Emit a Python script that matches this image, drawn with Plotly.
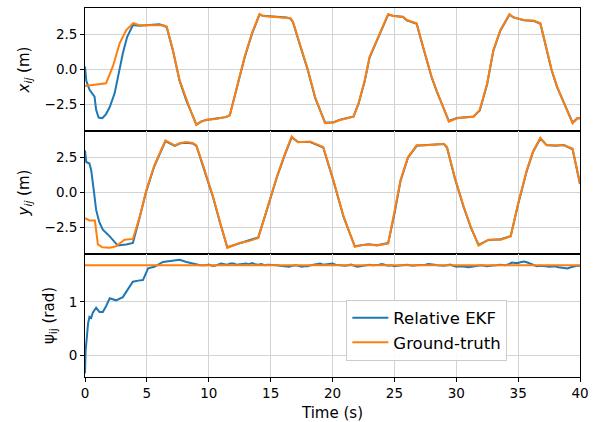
import plotly.graph_objects as go
from plotly.subplots import make_subplots

# ---------------- data ----------------
# Panel 1: x_ij (m)
t_x_gt = [0, 0.8, 1.7, 2.25, 2.8, 3.33, 3.9, 4.4, 5.0, 5.6, 6.0, 6.3, 6.6, 7.1, 7.65, 8.2, 8.6, 9.0,
          9.4, 9.8, 10.6, 11.4, 11.7, 12.3, 12.9, 13.5, 14.1, 14.4, 15.5, 16.3, 16.6, 16.8, 17.4, 18.0,
          18.6, 19.4, 20.1, 20.6, 21.2, 21.7, 22.1, 22.6, 23.0, 23.8, 24.5, 24.9, 25.7, 26.0, 26.8,
          27.2, 27.6, 28.0, 28.4, 28.9, 29.4, 30.06, 30.7, 31.4, 31.9, 32.5, 33.0, 33.56, 34.3, 34.6,
          35.45, 36.3, 36.8, 37.3, 37.7, 38.15, 38.8, 39.4, 39.8, 40.0]
x_gt = [-1.2, -1.1, -1.0, 0.2, 1.85, 2.8, 3.3, 3.15, 3.15, 3.2, 3.2, 3.15, 3.05, 1.4, -0.8, -2.2, -3.1, -3.98,
        -3.75, -3.6, -3.55, -3.4, -3.3, -1.2, 0.9, 2.6, 3.95, 3.8, 3.75, 3.7, 3.65, 3.4, 1.7, 0.0,
        -2.0, -3.86, -3.8, -3.62, -3.5, -3.39, -2.43, -0.8, 0.9, 2.6, 3.95, 3.8, 3.76, 3.52, 3.29,
        2.0, 0.66, -0.5, -1.48, -2.6, -3.74, -3.5, -3.45, -3.39, -2.9, -1.0, 1.38, 2.8, 3.95, 3.71,
        3.52, 3.47, 3.29, 1.38, 0.0, -1.24, -2.6, -3.86, -3.5, -3.5]

t_x_ekf = [0, 0.1, 0.36, 0.77, 0.9, 1.1, 1.4, 1.7, 2.0, 2.4, 2.7, 3.06, 3.4, 3.87, 4.4, 5.0, 5.6, 6.0,
           6.3, 6.6, 7.1, 7.65, 8.2, 8.6, 9.0, 9.4, 9.8, 10.6, 11.4, 11.7, 12.3, 12.9, 13.5, 14.1, 14.4,
           15.5, 16.3, 16.6, 16.8, 17.4, 18.0, 18.6, 19.4, 20.1, 20.6, 21.2, 21.7, 22.1, 22.6, 23.0,
           23.8, 24.5, 24.9, 25.7, 26.0, 26.8, 27.2, 27.6, 28.0, 28.4, 28.9, 29.4, 30.06, 30.7, 31.4,
           31.9, 32.5, 33.0, 33.56, 34.3, 34.6, 35.45, 36.3, 36.8, 37.3, 37.7, 38.15, 38.8, 39.4, 39.8, 40.0]
x_ekf = [0.2, -0.8, -1.45, -1.95, -2.9, -3.45, -3.5, -3.2, -2.7, -1.7, -0.4, 1.14, 2.3, 3.16, 3.12, 3.14,
         3.2, 3.22, 3.13, 3.02, 1.35, -0.85, -2.25, -3.12, -3.95, -3.72, -3.62, -3.52, -3.42, -3.28,
         -1.25, 0.85, 2.55, 3.9, 3.82, 3.73, 3.7, 3.62, 3.38, 1.65, -0.05, -2.05, -3.82, -3.78, -3.6,
         -3.48, -3.37, -2.48, -0.85, 0.85, 2.55, 3.9, 3.82, 3.74, 3.5, 3.25, 1.95, 0.6, -0.55, -1.52,
         -2.65, -3.7, -3.48, -3.44, -3.37, -2.95, -1.05, 1.33, 2.76, 3.9, 3.73, 3.5, 3.45, 3.25, 1.32,
         -0.05, -1.28, -2.65, -3.82, -3.48, -3.5]

# Panel 2: y_ij (m)
t_y_gt = [0, 0.36, 0.8, 1.04, 1.4, 2.0, 2.5, 3.2, 3.87, 4.4, 4.96, 5.6, 6.5, 7.25, 7.7, 8.2, 8.7, 9.0,
          9.5, 10.35, 10.9, 11.5, 12.5, 13.3, 14.0, 14.7, 15.5, 16.1, 16.7, 17.2, 18.2, 18.6, 19.25,
          20.07, 20.9, 21.8, 22.4, 22.9, 23.6, 24.5, 25.0, 25.5, 26.1, 26.8, 27.6, 28.3, 29.0, 29.25,
          29.9, 30.6, 31.2, 31.8, 32.6, 33.6, 34.4, 35.0, 35.7, 36.2, 36.8, 37.3, 38.0, 38.7, 39.4, 40.0]
y_gt = [-1.83, -2.0, -2.0, -3.7, -3.9, -3.94, -3.83, -3.36, -3.31, -1.8, 0.16, 1.9, 3.68, 3.33, 3.5, 3.56,
        3.5, 3.33, 2.04, -0.31, -2.07, -3.94, -3.6, -3.45, -3.24, -1.2, 1.1, 2.6, 3.96, 3.56, 3.6, 3.45,
        3.21, 0.87, -1.72, -3.87, -3.75, -3.71, -3.78, -3.64, -1.5, 0.87, 2.5, 3.33, 3.33, 3.4, 3.45,
        3.21, 1.0, -1.01, -2.5, -3.78, -3.36, -3.36, -3.13, -0.8, 1.57, 2.9, 3.87, 3.33, 3.33, 3.33, 3.1, 0.63]

t_y_ekf = [0, 0.1, 0.36, 0.5, 0.7, 0.9, 1.15, 1.44, 2.0, 2.3, 2.65, 3.33, 3.87, 4.4, 4.96, 5.6, 6.5, 7.25,
           7.7, 8.2, 8.7, 9.0, 9.5, 10.35, 10.9, 11.5, 12.5, 13.3, 14.0, 14.7, 15.5, 16.1, 16.7, 17.2,
           18.2, 18.6, 19.25, 20.07, 20.9, 21.8, 22.4, 22.9, 23.6, 24.5, 25.0, 25.5, 26.1, 26.8, 27.6,
           28.3, 29.0, 29.25, 29.9, 30.6, 31.2, 31.8, 32.6, 33.6, 34.4, 35.0, 35.7, 36.2, 36.8, 37.3,
           38.0, 38.7, 39.4, 40.0]
y_ekf = [2.98, 2.15, 2.04, 1.57, 0.2, -1.25, -2.1, -2.65, -3.13, -3.4, -3.78, -3.71, -3.6, -1.85, 0.1,
         1.85, 3.63, 3.3, 3.48, 3.52, 3.47, 3.3, 1.98, -0.36, -2.12, -3.9, -3.62, -3.42, -3.2, -1.25,
         1.05, 2.55, 3.9, 3.58, 3.57, 3.42, 3.18, 0.82, -1.77, -3.83, -3.77, -3.68, -3.75, -3.6, -1.55,
         0.82, 2.45, 3.3, 3.36, 3.38, 3.42, 3.18, 0.95, -1.06, -2.55, -3.74, -3.38, -3.33, -3.1, -0.85,
         1.52, 2.85, 3.82, 3.35, 3.3, 3.35, 3.05, 0.58]

# Panel 3: psi_ij (rad)
t_psi_gt = [0, 40]
psi_gt = [1.69, 1.69]

t_psi_ekf = [0, 0.05, 0.15, 0.25, 0.36, 0.5, 0.63, 0.9, 1.17, 1.44, 1.7, 2.0, 2.5, 3.06, 3.5, 3.87, 4.3,
             4.68, 5.1, 5.6, 6.3, 7.0, 7.65, 8.2, 8.7, 9.3, 9.8,
             10.0, 10.25, 10.5, 10.75, 11.0, 11.25, 11.5, 11.75, 12.0, 12.25, 12.5, 12.75, 13.0, 13.25,
             13.5, 13.75, 14.0, 14.25, 14.5, 14.75, 15.0, 15.25, 15.5, 15.75, 16.0, 16.25, 16.5, 16.75,
             17.0, 17.25, 17.5, 17.75, 18.0, 18.25, 18.5, 18.75, 19.0, 19.25, 19.5, 19.75, 20.0, 20.25,
             20.5, 20.75, 21.0, 21.25, 21.5, 21.75, 22.0, 22.25, 22.5, 22.75, 23.0, 23.25, 23.5, 23.75,
             24.0, 24.25, 24.5, 24.75, 25.0, 25.25, 25.5, 25.75, 26.0, 26.25, 26.5, 26.75, 27.0, 27.25,
             27.5, 27.75, 28.0, 28.25, 28.5, 28.75, 29.0, 29.25, 29.5, 29.75, 30.0, 30.25, 30.5, 30.75,
             31.0, 31.25, 31.5, 31.75, 32.0, 32.25, 32.5, 32.75, 33.0, 33.25, 33.5, 33.75, 34.0, 34.25,
             34.5, 34.75, 35.0, 35.25, 35.5, 35.75, 36.0, 36.25, 36.5, 36.75, 37.0, 37.25, 37.5, 37.75,
             38.0, 38.25, 38.5, 38.75, 39.0, 39.25, 39.5, 39.75, 40.0]
psi_ekf = [-0.34, 0.09, 0.34, 0.6, 0.72, 0.7, 0.8, 0.89, 0.81, 0.81, 0.92, 1.07, 1.03, 1.09, 1.25, 1.38, 1.4,
           1.41, 1.63, 1.66, 1.75, 1.77, 1.79, 1.75, 1.72, 1.69, 1.69,
           1.70, 1.68, 1.68, 1.70, 1.72, 1.71, 1.70, 1.72, 1.72, 1.70, 1.71, 1.72, 1.72, 1.71,
           1.73, 1.71, 1.70, 1.71, 1.69, 1.70, 1.70, 1.69, 1.69, 1.68, 1.67, 1.66, 1.66, 1.68,
           1.69, 1.68, 1.66, 1.67, 1.67, 1.69, 1.70, 1.71, 1.72, 1.70, 1.71, 1.72, 1.72, 1.70,
           1.69, 1.68, 1.68, 1.69, 1.70, 1.68, 1.66, 1.67, 1.68, 1.69, 1.70, 1.69, 1.69, 1.70,
           1.71, 1.70, 1.68, 1.69, 1.67, 1.68, 1.69, 1.70, 1.70, 1.69, 1.68, 1.69, 1.69, 1.70,
           1.70, 1.71, 1.71, 1.70, 1.69, 1.68, 1.68, 1.69, 1.70, 1.68, 1.66, 1.67, 1.67, 1.66,
           1.65, 1.66, 1.67, 1.68, 1.69, 1.68, 1.67, 1.68, 1.68, 1.69, 1.70, 1.69, 1.69, 1.71,
           1.74, 1.73, 1.73, 1.75, 1.76, 1.74, 1.72, 1.69, 1.67, 1.68, 1.68, 1.67, 1.66, 1.67,
           1.67, 1.65, 1.64, 1.63, 1.63, 1.65, 1.67, 1.68, 1.68]

x_ticks = [0, 5, 10, 15, 20, 25, 30, 35, 40]
xy_ticks = [-2.5, 0.0, 2.5]
psi_ticks = [0, 1]

BLUE = "#1f77b4"
ORANGE = "#ff7f0e"
FONT = "DejaVu Sans"

fig = make_subplots(rows=3, cols=1, shared_xaxes=True, vertical_spacing=0)

fig.add_trace(go.Scatter(x=t_x_ekf, y=x_ekf, mode="lines", line=dict(color=BLUE, width=2),
                         name="Relative EKF", showlegend=True, legendrank=1), row=1, col=1)
fig.add_trace(go.Scatter(x=t_x_gt, y=x_gt, mode="lines", line=dict(color=ORANGE, width=2),
                         name="Ground-truth", showlegend=False), row=1, col=1)
fig.add_trace(go.Scatter(x=t_y_ekf, y=y_ekf, mode="lines", line=dict(color=BLUE, width=2),
                         name="Relative EKF", showlegend=False), row=2, col=1)
fig.add_trace(go.Scatter(x=t_y_gt, y=y_gt, mode="lines", line=dict(color=ORANGE, width=2),
                         name="Ground-truth", showlegend=False), row=2, col=1)
fig.add_trace(go.Scatter(x=t_psi_ekf, y=psi_ekf, mode="lines", line=dict(color=BLUE, width=2),
                         name="Relative EKF", showlegend=False), row=3, col=1)
fig.add_trace(go.Scatter(x=t_psi_gt, y=psi_gt, mode="lines", line=dict(color=ORANGE, width=2),
                         name="Ground-truth", showlegend=True, legendrank=2), row=3, col=1)

axis_common = dict(showline=True, linecolor="black", linewidth=0.8, mirror=True,
                   showgrid=True, gridcolor="#d3d3d3", gridwidth=1, zeroline=False,
                   ticks="outside", ticklen=4, tickcolor="black", automargin=False,
                   tickfont=dict(family=FONT, size=13.5, color="black"))

for r in (1, 2, 3):
    fig.update_xaxes(range=[0, 40], tickvals=x_ticks, **axis_common, row=r, col=1)
fig.update_xaxes(showticklabels=False, ticks="", row=1, col=1)
fig.update_xaxes(showticklabels=False, ticks="", row=2, col=1)
fig.update_xaxes(title=dict(text="Time (s)", font=dict(family=FONT, size=15, color="black"), standoff=8),
                 row=3, col=1)

title_font = dict(family=FONT, size=15, color="black")
fig.update_yaxes(range=[-4.41, 4.38], tickvals=xy_ticks, tickformat=".1f",
                 title=dict(text="<i>x</i><sub><i>ij</i></sub> (m)", font=title_font, standoff=11),
                 **axis_common, row=1, col=1)
fig.update_yaxes(range=[-4.38, 4.35], tickvals=xy_ticks, tickformat=".1f",
                 title=dict(text="<i>y</i><sub><i>ij</i></sub> (m)", font=title_font, standoff=11),
                 **axis_common, row=2, col=1)
fig.update_yaxes(range=[-0.41, 1.9], tickvals=psi_ticks, tickformat="d",
                 title=dict(text="ψ<sub>ij</sub> (rad)", font=title_font, standoff=10),
                 **axis_common, row=3, col=1)

fig.update_layout(
    width=608, height=422,
    margin=dict(l=85, r=28, t=8, b=45),
    paper_bgcolor="white", plot_bgcolor="white",
    font=dict(family=FONT, size=13.5, color="black"),
    legend=dict(x=0.528, y=0.21, xanchor="left", yanchor="top",
                bgcolor="rgba(255,255,255,0.9)", bordercolor="#cccccc", borderwidth=1,
                font=dict(family=FONT, size=16.5, color="black"),
                tracegroupgap=2, itemwidth=36),
)

fig.write_html("out.html", config={"displayModeBar": False},
               post_script="document.body.style.margin='0';document.body.style.overflow='hidden';")
